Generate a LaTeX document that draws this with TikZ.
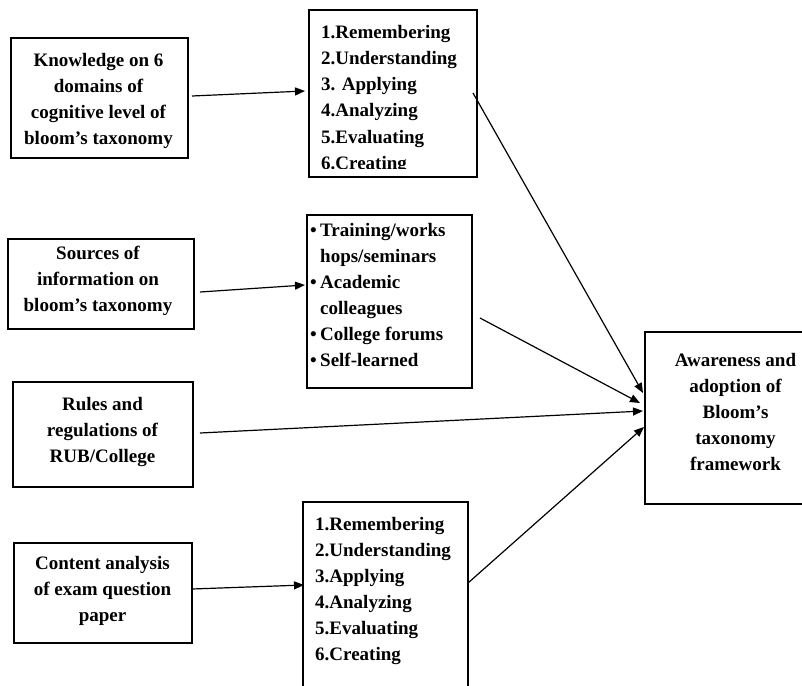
\documentclass[tikz,border=0pt]{standalone}
\usepackage{fontspec}
\setmainfont{Liberation Serif}
\usetikzlibrary{arrows.meta}
\begin{document}
\begin{tikzpicture}[x=1pt,y=-1pt,
  box/.style={draw, line width=1.3pt, inner sep=0pt, outer sep=0pt, anchor=north west},
  txt/.style={inner sep=0pt, font=\bfseries\fontsize{19}{26}\selectfont, align=center, anchor=north},
  lst/.style={inner sep=0pt, font=\bfseries\fontsize{19}{26}\selectfont, align=left, anchor=north west},
  arr/.style={line width=1.2pt, -{Triangle[length=10pt,width=8pt]}}]
\useasboundingbox (0,0) rectangle (802,685);
\clip (0,0) rectangle (802,685);

% boxes
\node[box, minimum width=177pt, minimum height=120pt] (A) at (11,38) {};
\node[box, minimum width=168pt, minimum height=167pt] (B) at (309,10) {};
\node[box, minimum width=186pt, minimum height=90pt]  (C) at (8,239) {};
\node[box, minimum width=165pt, minimum height=173pt] (D) at (307,215) {};
\node[box, minimum width=180pt, minimum height=105pt] (E) at (13,382) {};
\node[box, minimum width=180pt, minimum height=172pt] (F) at (645,332) {};
\node[box, minimum width=178pt, minimum height=100pt] (G) at (14,543) {};
\node[box, minimum width=165pt, minimum height=220pt] (H) at (303,502) {};

% texts
\node[txt] (Atext) at (98.5,53) {Knowledge on 6\\domains of\\cognitive level of\\bloom’s taxonomy};
\begin{scope}
  \clip (309,10) rectangle (477,168.5);
  \node[lst, font=\bfseries\fontsize{19}{26.2}\selectfont] (Btext) at (321,25) {1.Remembering\\2.Understanding\\3. Applying\\4.Analyzing\\5.Evaluating\\6.Creating};
\end{scope}
\node[txt] (Ctext) at (98,246) {Sources of\\information on\\bloom’s taxonomy};
\node[lst] (Dtext) at (310,223) {\makebox[10pt][l]{\textbullet}Training/works\\\hspace*{10pt}hops/seminars\\\makebox[10pt][l]{\textbullet}Academic\\\hspace*{10pt}colleagues\\\makebox[10pt][l]{\textbullet}College forums\\\makebox[10pt][l]{\textbullet}Self-learned};
\node[txt] (Etext) at (102.5,397) {Rules and\\regulations of\\RUB/College};
\node[txt] (Ftext) at (735.5,353) {Awareness and\\adoption of\\Bloom’s\\taxonomy\\framework};
\node[txt] (Gtext) at (102.5,556) {Content analysis\\of exam question\\paper};
\node[lst] (Htext) at (315,517) {1.Remembering\\2.Understanding\\3.Applying\\4.Analyzing\\5.Evaluating\\6.Creating};

% connector end points
\coordinate (a1) at (192,96);  \coordinate (a2) at (305,91);
\coordinate (c1) at (200,292); \coordinate (c2) at (305,285);
\coordinate (g1) at (192,589); \coordinate (g2) at (304,585);
\coordinate (b1) at (473,93);  \coordinate (f1) at (643,393);
\coordinate (d1) at (480,318); \coordinate (f2) at (640,403);
\coordinate (e1) at (200,433); \coordinate (f3) at (643,411);
\coordinate (h1) at (468,583); \coordinate (f4) at (644,427);

% connectors
\draw[arr] (a1) -- (a2);
\draw[arr] (c1) -- (c2);
\draw[arr] (g1) -- (g2);
\draw[arr] (b1) -- (f1);
\draw[arr] (d1) -- (f2);
\draw[arr] (e1) -- (f3);
\draw[arr] (h1) -- (f4);
\end{tikzpicture}
\end{document}
